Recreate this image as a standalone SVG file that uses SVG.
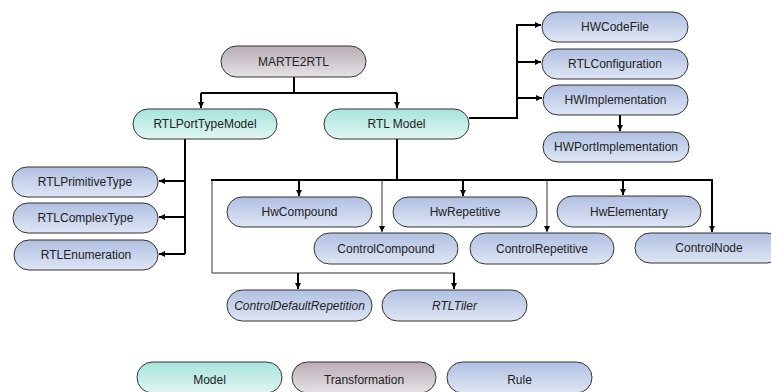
<svg xmlns="http://www.w3.org/2000/svg" width="771" height="392" viewBox="0 0 771 392">
<defs>
<linearGradient id="gModel" x1="0" y1="0" x2="0" y2="1"><stop offset="0" stop-color="#a6e4da"/><stop offset="1" stop-color="#e2f6f3"/></linearGradient>
<linearGradient id="gTrans" x1="0" y1="0" x2="0" y2="1"><stop offset="0" stop-color="#b9adb6"/><stop offset="1" stop-color="#e6e2e6"/></linearGradient>
<linearGradient id="gRule" x1="0" y1="0" x2="0" y2="1"><stop offset="0" stop-color="#b0c0e2"/><stop offset="1" stop-color="#dfe6f4"/></linearGradient>
<marker id="arr" markerUnits="userSpaceOnUse" markerWidth="7" markerHeight="6" refX="6" refY="3" orient="auto"><path d="M0,0 L6,3 L0,6 z" fill="#000"/></marker>
</defs>
<style>
.n rect{stroke:#333;stroke-width:1}
.model rect{fill:url(#gModel)}
.trans rect{fill:url(#gTrans)}
.rule rect{fill:url(#gRule)}
text{font-family:"Liberation Sans",Arial,sans-serif;font-size:12px;fill:#222;text-anchor:middle;dominant-baseline:central}
.it text{font-style:italic}
.c path{fill:none;stroke:#000;stroke-width:2}
.c path.a{marker-end:url(#arr)}
.c path.t{stroke:#333;stroke-width:1}
</style>
<rect width="771" height="392" fill="#fff"/>
<g id="connectors" class="c">
<path d="M294,77 V93"/>
<path d="M201,93 H397"/>
<path class="a" d="M201,93 V108"/>
<path class="a" d="M397,93 V108"/>
<path d="M185,139 V254"/>
<path class="a" d="M185,181 H159"/>
<path class="a" d="M185,217 H159"/>
<path class="a" d="M185,254 H159"/>
<path d="M469,118 H517 V25"/>
<path class="a" d="M516,25 H541"/>
<path class="a" d="M516,62 H541"/>
<path class="a" d="M516,98 H542"/>
<path class="a" d="M620,115 V131"/>
<path d="M397,139 V180"/>
<path class="t" d="M212,180 V273 H455"/>
<path d="M211,180 H713"/>
<path class="a" d="M712,180 V232"/>
<path class="a" d="M299,180 V196"/>
<path class="a" d="M463,180 V196"/>
<path class="a" d="M623,180 V195"/>
<path class="t a" d="M382,180 V232"/>
<path class="t a" d="M547,180 V232"/>
<path class="a" d="M298,273 V289"/>
<path class="a" d="M454,273 V289"/>
</g>
<g id="n-marte2rtl" class="n trans"><rect x="221" y="46" width="145" height="31" rx="15.5"/><text x="293.5" y="61.5">MARTE2RTL</text></g>
<g id="n-rtlporttypemodel" class="n model"><rect x="133" y="109" width="144" height="30" rx="15"/><text x="205" y="124">RTLPortTypeModel</text></g>
<g id="n-rtlmodel" class="n model"><rect x="324" y="109" width="145" height="30" rx="15"/><text x="396.5" y="124">RTL Model</text></g>
<g id="n-hwcodefile" class="n rule"><rect x="542" y="12" width="146" height="30" rx="15"/><text x="615" y="27">HWCodeFile</text></g>
<g id="n-rtlconfiguration" class="n rule"><rect x="542" y="49" width="146" height="30" rx="15"/><text x="615" y="64">RTLConfiguration</text></g>
<g id="n-hwimplementation" class="n rule"><rect x="543" y="85" width="145" height="30" rx="15"/><text x="615.5" y="100">HWImplementation</text></g>
<g id="n-hwportimplementation" class="n rule"><rect x="543" y="132" width="146" height="30" rx="15"/><text x="616" y="147">HWPortImplementation</text></g>
<g id="n-rtlprimitivetype" class="n rule"><rect x="12" y="167" width="146" height="30" rx="15"/><text x="85" y="182">RTLPrimitiveType</text></g>
<g id="n-rtlcomplextype" class="n rule"><rect x="13" y="203" width="145" height="30" rx="15"/><text x="85.5" y="218">RTLComplexType</text></g>
<g id="n-rtlenumeration" class="n rule"><rect x="14" y="240" width="144" height="30" rx="15"/><text x="86" y="255">RTLEnumeration</text></g>
<g id="n-hwcompound" class="n rule"><rect x="227" y="197" width="145" height="30" rx="15"/><text x="299.5" y="212">HwCompound</text></g>
<g id="n-hwrepetitive" class="n rule"><rect x="393" y="197" width="144" height="30" rx="15"/><text x="465" y="212">HwRepetitive</text></g>
<g id="n-hwelementary" class="n rule"><rect x="557" y="196" width="144" height="31" rx="15.5"/><text x="629" y="211.5">HwElementary</text></g>
<g id="n-controlcompound" class="n rule"><rect x="314" y="233" width="144" height="31" rx="15.5"/><text x="386" y="248.5">ControlCompound</text></g>
<g id="n-controlrepetitive" class="n rule"><rect x="470" y="233" width="144" height="31" rx="15.5"/><text x="542" y="248.5">ControlRepetitive</text></g>
<g id="n-controlnode" class="n rule"><rect x="635" y="233" width="147" height="30" rx="15"/><text x="709" y="248">ControlNode</text></g>
<g id="n-controldefaultrepetition" class="n rule it"><rect x="227" y="290" width="145" height="31" rx="15.5"/><text x="299.5" y="305.5">ControlDefaultRepetition</text></g>
<g id="n-rtltiler" class="n rule it"><rect x="382" y="290" width="145" height="31" rx="15.5"/><text x="454.5" y="305.5">RTLTiler</text></g>
<g id="legend-model" class="n model"><rect x="137" y="362" width="145" height="31" rx="15.5"/><text x="209.5" y="380">Model</text></g>
<g id="legend-transformation" class="n trans"><rect x="292" y="362" width="144" height="31" rx="15.5"/><text x="364" y="380">Transformation</text></g>
<g id="legend-rule" class="n rule"><rect x="447" y="362" width="145" height="31" rx="15.5"/><text x="519.5" y="380">Rule</text></g>
</svg>
